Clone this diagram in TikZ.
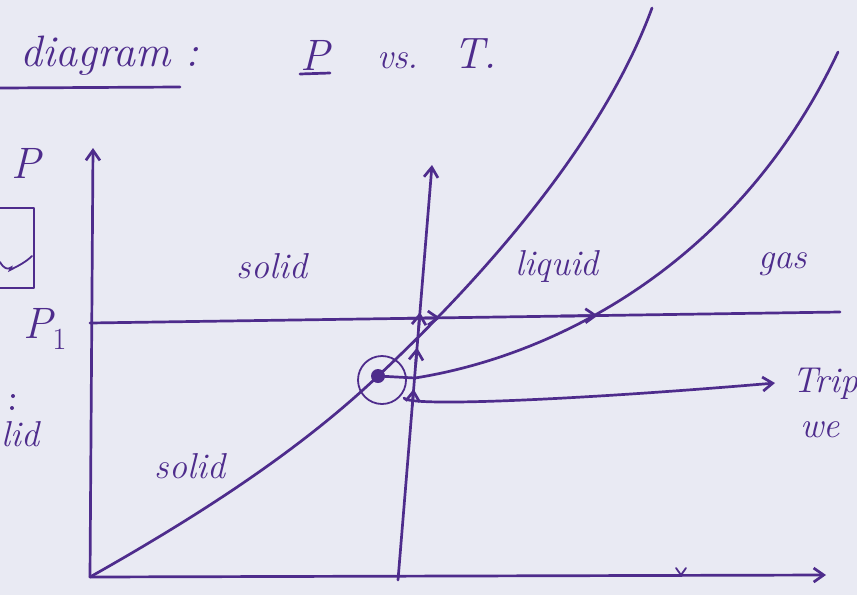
\documentclass[tikz,border=0pt]{standalone}
\usetikzlibrary{arrows.meta,calc,positioning}
\definecolor{ink}{RGB}{78,44,140}
\definecolor{paper}{RGB}{233,234,243}

\begin{document}
\begin{tikzpicture}[
  x=1pt,y=-1pt,>={Straight Barb[length=10pt,width=14pt]},
  font=\fontsize{36}{40}\selectfont\itshape,
  pen/.style={ink,line width=2.7pt,line cap=round,line join=round},
  thinpen/.style={ink,line width=1.8pt,line cap=round},
  hand/.style={ink,inner sep=0pt},
  titlefont/.style={font=\fontsize{44}{48}\selectfont\itshape}
]
\fill[paper] (0,0) rectangle (857,595);
\useasboundingbox (0,0) rectangle (857,595);
\clip (0,0) rectangle (857,595);
% title, cut at the left edge of the sheet
\node[hand,titlefont,anchor=base west] (ttl) at (20,66) {diagram :};
\draw[pen] (0,88) -- (180,87);
\node[hand,titlefont,anchor=base] (tP) at (315,70) {P};
\draw[pen] (300,74) -- (330,73);
\node[hand,anchor=base] (tvs) at (398,68) {vs.};
\node[hand,titlefont,anchor=base] (tT) at (475,68) {T.};
% left margin notes
\node[hand,titlefont,anchor=base] (mP) at (26,178) {P};
\draw[pen] (-10,208) -- (34,208) -- (34,288) -- (-10,288);
\draw[thinpen] (0,262) .. controls (8,276) and (14,262) .. (10,270)
  .. controls (18,266) and (26,262) .. (32,256);
\node[hand,titlefont,anchor=base] (P1) at (45,338) {P\textsubscript{\upshape 1}};
\fill[ink] (13,396) circle (2pt) (12,408) circle (2pt);
\node[hand,anchor=base west] (mlid) at (1,446) {lid};
% axes
\coordinate (O) at (90,577);
\coordinate (Ptop) at (93,148);
\coordinate (Tend) at (826,575);
\draw[pen,->] (O) -- (Ptop);
\draw[pen,->] (O) -- (Tend);
\draw[thinpen] (676,568) -- (681,575) -- (686,568);
% isotherm through the triple point temperature
\coordinate (Tb) at (398,580);
\coordinate (Tt) at (432,165);
\draw[pen,->] (Tb) -- (Tt);
\foreach \f in {.46,.56,.645}
  \draw[pen,->] ($(Tb)!\f-.04!(Tt)$) -- ($(Tb)!\f!(Tt)$);
% isobar P_1
\coordinate (Pa) at (90,323);
\coordinate (Pb) at (840,312);
\draw[pen] (Pa) -- (Pb);
\foreach \f in {.467,.677}
  \draw[pen,->] ($(Pa)!\f-.05!(Pb)$) -- ($(Pa)!\f!(Pb)$);
% coexistence curves
\coordinate (Tp) at (378,376);
\draw[pen] (O) .. controls (200,515) and (300,450) .. (Tp)
  .. controls (470,290) and (600,150) .. (652,8);
\draw[pen] (Tp) -- (415,378) .. controls (560,355) and (740,260) .. (838,52);
% triple point
\fill[ink] (Tp) circle (7pt);
\draw[thinpen] (382,380) circle (24pt);
\coordinate (Ta) at (404,398);
\node[hand,anchor=base west] (trip) at (792,392) {Trip};
\node[hand,anchor=base west] (we) at (800,437) {we};
\draw[pen,->] (Ta) .. controls (410,408) and (600,398) .. (775,383);
% phase labels
\node[hand] (sol1) at (272,266) {solid};
\node[hand] (liq) at (557,266) {liquid};
\node[hand] (gas) at (783,264) {gas};
\node[hand] (sol2) at (190,466) {solid};
\end{tikzpicture}
\end{document}
